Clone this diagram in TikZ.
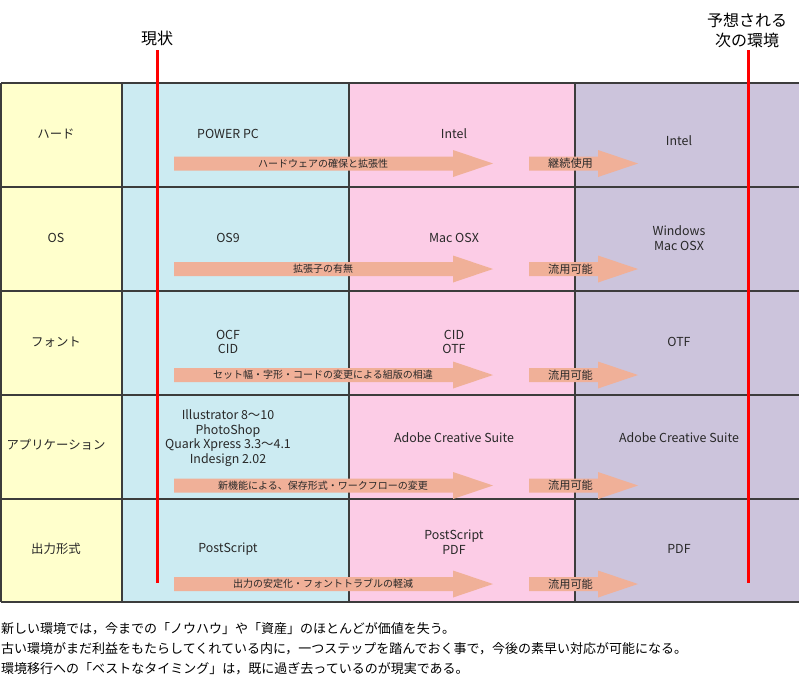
\documentclass[tikz,border=0pt]{standalone}
\usepackage{fontspec}
\setmainfont{Noto Sans CJK JP}
\usepackage{xcolor}
\usetikzlibrary{positioning}

\definecolor{rowhead}{RGB}{255,255,204}
\definecolor{nowcol}{RGB}{204,235,242}
\definecolor{midcol}{RGB}{252,204,230}
\definecolor{nextcol}{RGB}{204,196,220}
\definecolor{arrowfill}{RGB}{240,176,152}
\definecolor{gridline}{RGB}{60,60,60}
\definecolor{inktext}{RGB}{40,40,40}

\tikzset{
  cell/.style={align=center, text=inktext, inner sep=0pt, font=\fontsize{12.4}{14.5}\selectfont},
  steplabel/.style={text=inktext, inner sep=0pt, font=\fontsize{10}{12}\selectfont},
  keeplabel/.style={text=inktext, inner sep=0pt, font=\fontsize{11.2}{13}\selectfont},
  headlabel/.style={align=center, text=black, inner sep=0pt, font=\fontsize{16}{20}\selectfont},
  noteline/.style={anchor=west, text=black, inner sep=0pt, font=\fontsize{13}{15}\selectfont},
  gridrule/.style={gridline, line width=1.2pt},
  timeline/.style={red, line width=3pt},
}

\begin{document}
\begin{tikzpicture}[x=1pt, y=-1pt]
\useasboundingbox (0,0) rectangle (799,697);

\fill[rowhead] (1,83) rectangle (122,602);
\fill[nowcol] (122,83) rectangle (349,602);
\fill[midcol] (349,83) rectangle (575,602);
\fill[nextcol] (575,83) rectangle (799,602);

\foreach \y in {83,187,291,395,499,602}
  \draw[gridrule] (1,\y) -- (799,\y);
\foreach \x in {1,122,349,575}
  \draw[gridrule] (\x,83) -- (\x,602);

\node[cell] (hard) at (56,134) {ハード};
\node[cell] (hardnow) at (228,134) {POWER PC};
\node[cell] (hardmid) at (454,134) {Intel};
\node[cell] (hardnext) at (679,141) {Intel};

\node[cell] (os) at (56,238) {OS};
\node[cell] (osnow) at (228,238) {OS9};
\node[cell] (osmid) at (454,238) {Mac OSX};
\node[cell] (osnext) at (679,238) {Windows\\Mac OSX};

\node[cell] (font) at (56,342) {フォント};
\node[cell] (fontnow) at (228,342) {OCF\\CID};
\node[cell] (fontmid) at (454,342) {CID\\OTF};
\node[cell] (fontnext) at (679,342) {OTF};

\node[cell] (app) at (56,445) {アプリケーション};
\node[cell] (appnow) at (228,438) {Illustrator 8〜10\\PhotoShop\\Quark Xpress 3.3〜4.1\\Indesign 2.02};
\node[cell] (appmid) at (454,438) {Adobe Creative Suite};
\node[cell] (appnext) at (679,438) {Adobe Creative Suite};

\node[cell] (out) at (56,549) {出力形式};
\node[cell] (outnow) at (228,549) {PostScript};
\node[cell] (outmid) at (454,542) {PostScript\\PDF};
\node[cell] (outnext) at (679,549) {PDF};

\foreach \y/\cause/\keep in {163.5/ハードウェアの確保と拡張性/継続使用,
    269/拡張子の有無/流用可能,
    375/セット幅・字形・コードの変更による組版の相違/流用可能,
    485.5/新機能による、保存形式・ワークフローの変更/流用可能,
    584/出力の安定化・フォントトラブルの軽減/流用可能} {
  \fill[arrowfill] (174,\y-7) -- (453,\y-7) -- (453,\y-13.5) -- (493,\y)
    -- (453,\y+13.5) -- (453,\y+7) -- (174,\y+7) -- cycle;
  \fill[arrowfill] (529,\y-7) -- (598,\y-7) -- (598,\y-13.5) -- (638,\y)
    -- (598,\y+13.5) -- (598,\y+7) -- (529,\y+7) -- cycle;
  \node[steplabel] at (323,\y) {\cause};
  \node[keeplabel] at (570.5,\y) {\keep};
}

\node[headlabel] (now) at (157,38) {現状};
\node[headlabel] (next) at (747,30) {予想される\\次の環境};
\coordinate (nowend) at (157.5,583);
\coordinate (nextend) at (748,583);
\draw[timeline] (nowend |- 0,50) -- (nowend);
\draw[timeline] (nextend |- 0,50) -- (nextend);

\node[noteline] (note1) at (1,629) {新しい環境では，今までの「ノウハウ」や「資産」のほとんどが価値を失う。};
\node[noteline] (note2) at (1,649) {古い環境がまだ利益をもたらしてくれている内に，一つステップを踏んでおく事で，今後の素早い対応が可能になる。};
\node[noteline] (note3) at (1,669) {環境移行への「ベストなタイミング」は，既に過ぎ去っているのが現実である。};
\end{tikzpicture}
\end{document}
